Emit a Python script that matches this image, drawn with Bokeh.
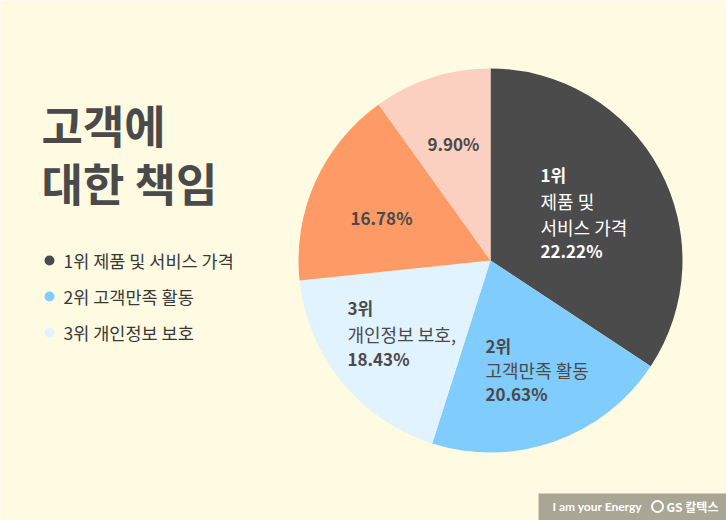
import math
from bokeh.plotting import figure
from bokeh.models import Range1d
from bokeh.core.properties import value
from bokeh.embed import file_html
from bokeh.resources import INLINE

W, H = 726, 520

# ---- data ----
categories = ["1위 제품 및 서비스 가격", "2위 고객만족 활동", "3위 개인정보 보호", "기타 A", "기타 B"]
slice_values = [34.3, 20.63, 18.43, 16.78, 9.90]          # angular share of each slice as drawn
pct_labels = ["22.22%", "20.63%", "18.43%", "16.78%", "9.90%"]
colors = ["#4b4b4b", "#80ccfc", "#e0f3fe", "#fd9a66", "#fbd0c0"]
legend_items = ["1위 제품 및 서비스 가격", "2위 고객만족 활동", "3위 개인정보 보호"]
title_lines = ["고객에", "대한 책임"]

KR = "Noto Sans CJK KR"
BG = "#fffbe2"
DARK = "#4a4a4a"

def Y(ypix):
    return H - ypix

p = figure(width=W, height=H, output_backend="svg", toolbar_location=None,
           x_range=Range1d(0, W), y_range=Range1d(0, H), min_border=0)
p.axis.visible = False
p.grid.visible = False
p.outline_line_color = None
p.background_fill_color = BG
p.border_fill_color = BG

# ---- pie ----
cx, cy, R = 490, Y(260), 192
total = sum(slice_values)
cum = 0.0
starts, ends = [], []
for v in slice_values:
    a0 = math.pi / 2 - 2 * math.pi * cum / total
    cum += v
    a1 = math.pi / 2 - 2 * math.pi * cum / total
    starts.append(a1)
    ends.append(a0)
p.wedge(x=[cx] * len(slice_values), y=[cy] * len(slice_values), radius=R,
        start_angle=starts, end_angle=ends, fill_color=colors, line_color=None)

def txt(x, ypix, s, size, color, bold=True, align="left", font=KR):
    p.text(x=[x], y=[Y(ypix)], text=[s], text_font=value(font), text_font_size=f"{size}px",
           text_color=color, text_font_style="bold" if bold else "normal",
           text_baseline="middle", text_align=align)

# slice labels
txt(540, 174, "1위", 17, "white")
txt(540, 200, "제품 및", 18, "white", bold=False)
txt(540, 226, "서비스 가격", 18, "white", bold=False)
txt(540, 250, pct_labels[0], 17, "white")

txt(485, 345, "2위", 17, DARK)
txt(485, 369, "고객만족 활동", 18, DARK, bold=False)
txt(485, 393, pct_labels[1], 17, DARK)

txt(347, 307, "3위", 17, DARK)
txt(347, 333, "개인정보 보호,", 18, DARK, bold=False)
txt(347, 358, pct_labels[2], 17, DARK)

txt(350, 217, pct_labels[3], 17, DARK)
txt(427, 143, pct_labels[4], 17, DARK)

# ---- title ----
txt(41, 124, title_lines[0], 45, DARK)
txt(41, 182, title_lines[1], 45, DARK)

# ---- legend ----
leg_y = [260, 296, 332]
for i, item in enumerate(legend_items):
    p.scatter(x=[49], y=[Y(leg_y[i])], size=10, fill_color=colors[i], line_color=None)
    txt(63, leg_y[i], item, 17.5, "#383838", bold=False)

# ---- footer ----
p.quad(left=[538], right=[W], bottom=[0], top=[Y(493)], fill_color="#a9a696", line_color=None)
txt(552, 506, "I am your Energy", 12, "white", font="Lato")
p.scatter(x=[657], y=[Y(506)], size=11, fill_color=None, line_color="white", line_width=2)
txt(666, 506, "GS 칼텍스", 12, "white")

open("out.html", "w").write(file_html(p, INLINE))
